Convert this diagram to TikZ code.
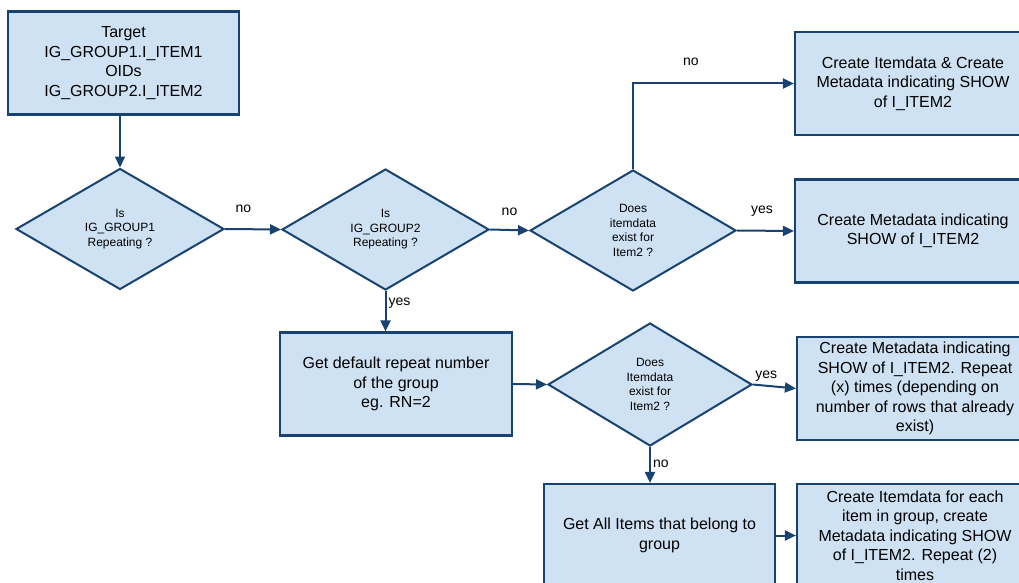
\documentclass[tikz,border=0pt]{standalone}
\usepackage{fontspec}
\setmainfont{Liberation Sans}
\usepackage{tikz}
\usetikzlibrary{arrows.meta}
\usetikzlibrary{shapes.geometric, positioning, calc}
\usepackage{xcolor}
\definecolor{boxfill}{RGB}{207,226,243}
\definecolor{boxline}{RGB}{24,66,112}

\begin{document}
\begin{tikzpicture}[x=1pt, y=-1pt, >={Triangle[length=11pt, width=10pt]},
    flowbox/.style={rectangle, draw=boxline, fill=boxfill, line width=2.2pt, minimum width=231pt, minimum height=103pt, align=center, inner sep=2pt, font=\fontsize{16}{19.5}\selectfont},
    decision/.style={diamond, draw=boxline, fill=boxfill, line width=2pt, inner sep=0pt, align=center, minimum width=207pt, minimum height=121pt, font=\fontsize{12}{14.5}\selectfont},
    flow/.style={->, draw=boxline, line width=2pt},
    lbl/.style={font=\fontsize{14}{16}\selectfont, inner sep=2pt}]
      \useasboundingbox (0, 0) rectangle (1019, 583);
      \clip (0, 0) rectangle (1019, 583);

      % top row
      \node[flowbox] (target) at (123.5, 63) {Target\\IG\_GROUP1.I\_ITEM1\\OIDs\\IG\_GROUP2.I\_ITEM2};
      \node[decision, minimum width=208pt] (isgroup1) at (120, 229) {Is\\IG\_GROUP1\\Repeating ?};
      \node[decision] (isgroup2) at (385.5, 229.5) {Is\\IG\_GROUP2\\Repeating ?};
      \node[decision, minimum width=206pt] (exist1) at (633, 230.5) {Does\\itemdata\\exist for\\Item2 ?};
      \node[flowbox, minimum width=236pt] (both) at (913, 83.5) {Create Itemdata \& Create\\Metadata indicating SHOW\\of I\_ITEM2};
      \node[flowbox, minimum width=236pt] (showonly) at (913, 231) {Create Metadata indicating\\SHOW of I\_ITEM2};

      % repeating group
      \node[flowbox, minimum width=232pt] (repeatnr) at (396, 384) {Get default repeat number\\of the group\\eg. RN=2};
      \node[decision, minimum width=204pt, minimum height=123pt] (exist2) at (650, 384.5) {Does\\Itemdata\\exist for\\Item2 ?};
      \node[flowbox, minimum width=236pt] (showx) at (915, 388.5) {Create Metadata indicating\\SHOW of I\_ITEM2. Repeat\\(x) times (depending on\\number of rows that already\\exist)};
      \node[flowbox] (allitems) at (659.5, 535.5) {Get All Items that belong to\\group};
      \node[flowbox, minimum width=236pt] (showtwo) at (915, 535.5) {Create Itemdata for each\\item in group, create\\Metadata indicating SHOW\\of I\_ITEM2. Repeat (2)\\times};

      \draw[flow] (isgroup1.north |- target.south) -- (isgroup1.north);
      \draw[flow] (isgroup1.east) -- node[lbl, above=14pt, pos=0.33] {no} (isgroup2.west);
      \draw[flow] (isgroup2.east) -- node[lbl, above=11pt] {no} (exist1.west);
      \draw[flow] (exist1.north) |- node[lbl, above=15pt, pos=0.68] {no} (both.west);
      \draw[flow] (exist1.east) -- node[lbl, above=11pt, pos=0.44] {yes} (showonly.west);
      \draw[flow] (isgroup2.south) -- node[lbl, right, pos=0.3] {yes} (isgroup2.south |- repeatnr.north);
      \draw[flow] (repeatnr.east) -- (exist2.west);
      \draw[flow] (exist2.east) -- node[lbl, above=1pt, pos=0.31] {yes} (showx.west);
      \draw[flow] (exist2.south) -- node[lbl, right, pos=0.47] {no} (exist2.south |- allitems.north);
      \draw[flow] (allitems.east) -- (showtwo.west);
    \end{tikzpicture}
\end{document}
